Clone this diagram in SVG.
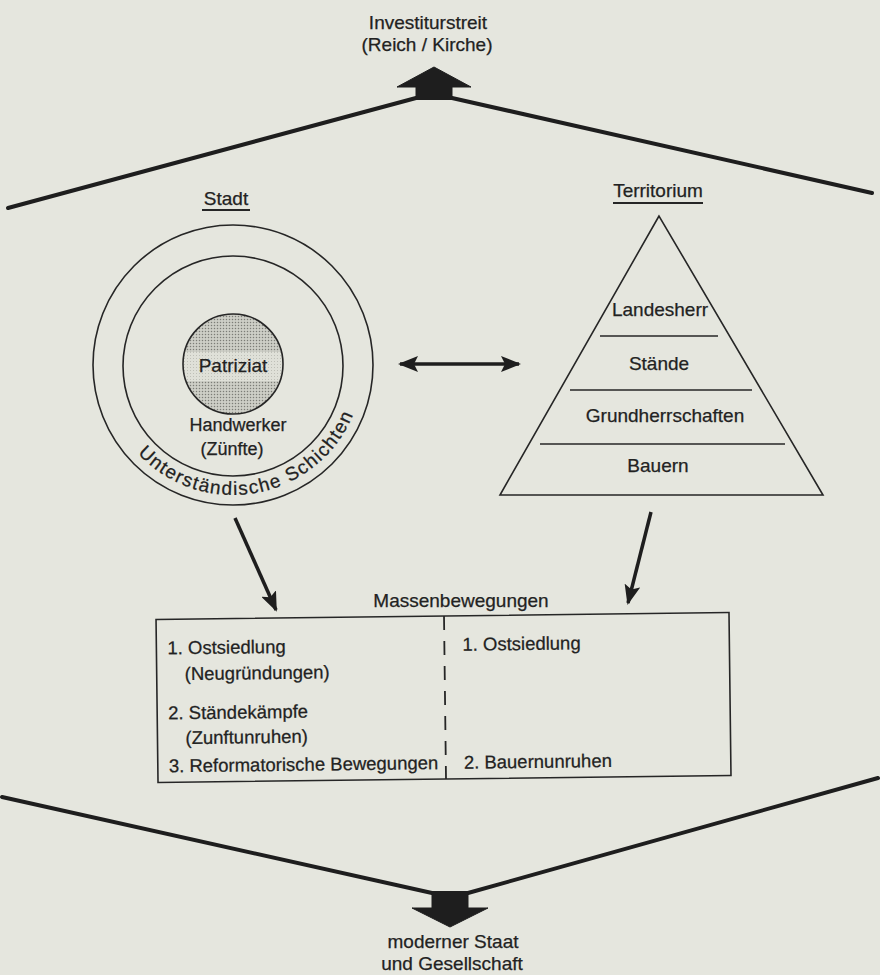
<svg xmlns="http://www.w3.org/2000/svg" width="880" height="975" viewBox="0 0 880 975">
<style>
text{font-family:"Liberation Sans",Arial,Helvetica,sans-serif;fill:#222;stroke:#222;stroke-width:0.25;font-size:19px}
.c{text-anchor:middle}
.box{font-size:18.5px}
.sm{font-size:18px}
.thin{fill:none;stroke:#262626;stroke-width:1.6}
.thick{fill:none;stroke:#1e1e1e;stroke-width:4;stroke-linejoin:round;stroke-linecap:round}
.arr{fill:none;stroke:#1e1e1e;stroke-width:3.5}
.solid{fill:#1e1e1e;stroke:#1e1e1e;stroke-width:1;stroke-linejoin:miter}
.ul{stroke:#262626;stroke-width:1.8}
</style>
<defs>
<pattern id="stipple" width="3" height="3" patternUnits="userSpaceOnUse">
<rect width="3" height="3" fill="#cdcec6"/>
<circle cx="1.5" cy="1.5" r="0.75" fill="#7c7d77"/>
</pattern>
<pattern id="stippleLight" width="3" height="3" patternUnits="userSpaceOnUse">
<rect width="3" height="3" fill="#dfe0d8"/>
<circle cx="1.5" cy="1.5" r="0.5" fill="#b3b4ad"/>
</pattern>
<clipPath id="innerClip"><circle cx="233" cy="364" r="50"/></clipPath>
<marker id="head" viewBox="0 0 20 16" refX="18" refY="8" markerWidth="20" markerHeight="16" markerUnits="userSpaceOnUse" orient="auto-start-reverse">
<path d="M0,0 L20,8 L0,16 L4,8 Z" fill="#1e1e1e"/>
</marker>
<path id="arcText" d="M136.4,452 A130,130 0 0 0 358.6,398.6"/>
</defs>
<rect width="880" height="975" fill="#e5e6de"/>

<g id="top">
<text class="c" x="428" y="29">Investiturstreit</text>
<text class="c" x="427" y="51">(Reich / Kirche)</text>
</g>

<g id="stadt">
<text class="c" x="226" y="205">Stadt</text>
<line class="ul" x1="202" y1="210" x2="250" y2="210"/>
<circle class="thin" cx="233" cy="365" r="140"/>
<circle class="thin" cx="233" cy="366" r="110"/>
<circle cx="233" cy="364" r="50" fill="url(#stipple)"/>
<rect x="180" y="352" width="110" height="29" fill="url(#stippleLight)" clip-path="url(#innerClip)"/>
<circle class="thin" cx="233" cy="364" r="50"/>
<text class="c" x="233" y="372">Patriziat</text>
<text class="c sm" x="238" y="431">Handwerker</text>
<text class="c sm" x="232" y="455">(Zünfte)</text>
<text style="letter-spacing:1.4px"><textPath href="#arcText" startOffset="2">Unterständische Schichten</textPath></text>
</g>

<g id="territorium">
<text class="c" x="658" y="197">Territorium</text>
<line class="ul" x1="613" y1="203" x2="703" y2="203"/>
<polygon class="thin" points="659,216 500,495 823,495"/>
<line class="thin" x1="600" y1="336" x2="718" y2="336"/>
<line class="thin" x1="570" y1="390" x2="752" y2="390"/>
<line class="thin" x1="540" y1="444" x2="785" y2="444"/>
<text class="c" x="660" y="316">Landesherr</text>
<text class="c" x="659" y="370">Stände</text>
<text class="c" x="665" y="422">Grundherrschaften</text>
<text class="c" x="658" y="472">Bauern</text>
</g>

<g id="massenbewegungen">
<text class="c" x="461" y="607">Massenbewegungen</text>
<g transform="rotate(-0.7 443 697)">
<rect class="thin" x="157" y="616" width="573" height="163"/>
<line x1="445" y1="616" x2="445" y2="779" stroke="#262626" stroke-width="1.8" stroke-dasharray="14 11"/>
<text class="box" x="168" y="651">1. Ostsiedlung</text>
<text class="box" x="185" y="677">(Neugründungen)</text>
<text class="box" x="168" y="716">2. Ständekämpfe</text>
<text class="box" x="185" y="741">(Zunftunruhen)</text>
<text class="box" x="168" y="769">3. Reformatorische Bewegungen</text>
<text class="box" x="463" y="651">1. Ostsiedlung</text>
<text class="box" x="463" y="769">2. Bauernunruhen</text>
</g>
</g>

<g id="bottom">
<text class="c" x="453" y="948">moderner Staat</text>
<text class="c" x="452" y="970">und Gesellschaft</text>
</g>

<g id="connectors">
<polyline class="thick" points="8,208 416,98 452,98 872,193"/>
<polygon class="solid" points="416,98 416,87 397,87 434,67 471,87 452,87 452,98"/>
<polyline class="thick" points="2,797 432,893 468,893 878,778"/>
<polygon class="solid" points="432,893 432,908 412,908 450,927 488,908 468,908 468,893"/>
<line class="arr" x1="400" y1="364" x2="519" y2="364" marker-start="url(#head)" marker-end="url(#head)"/>
<line class="arr" x1="235" y1="518" x2="276" y2="610" marker-end="url(#head)"/>
<line class="arr" x1="651" y1="512" x2="628" y2="603" marker-end="url(#head)"/>
</g>
</svg>
